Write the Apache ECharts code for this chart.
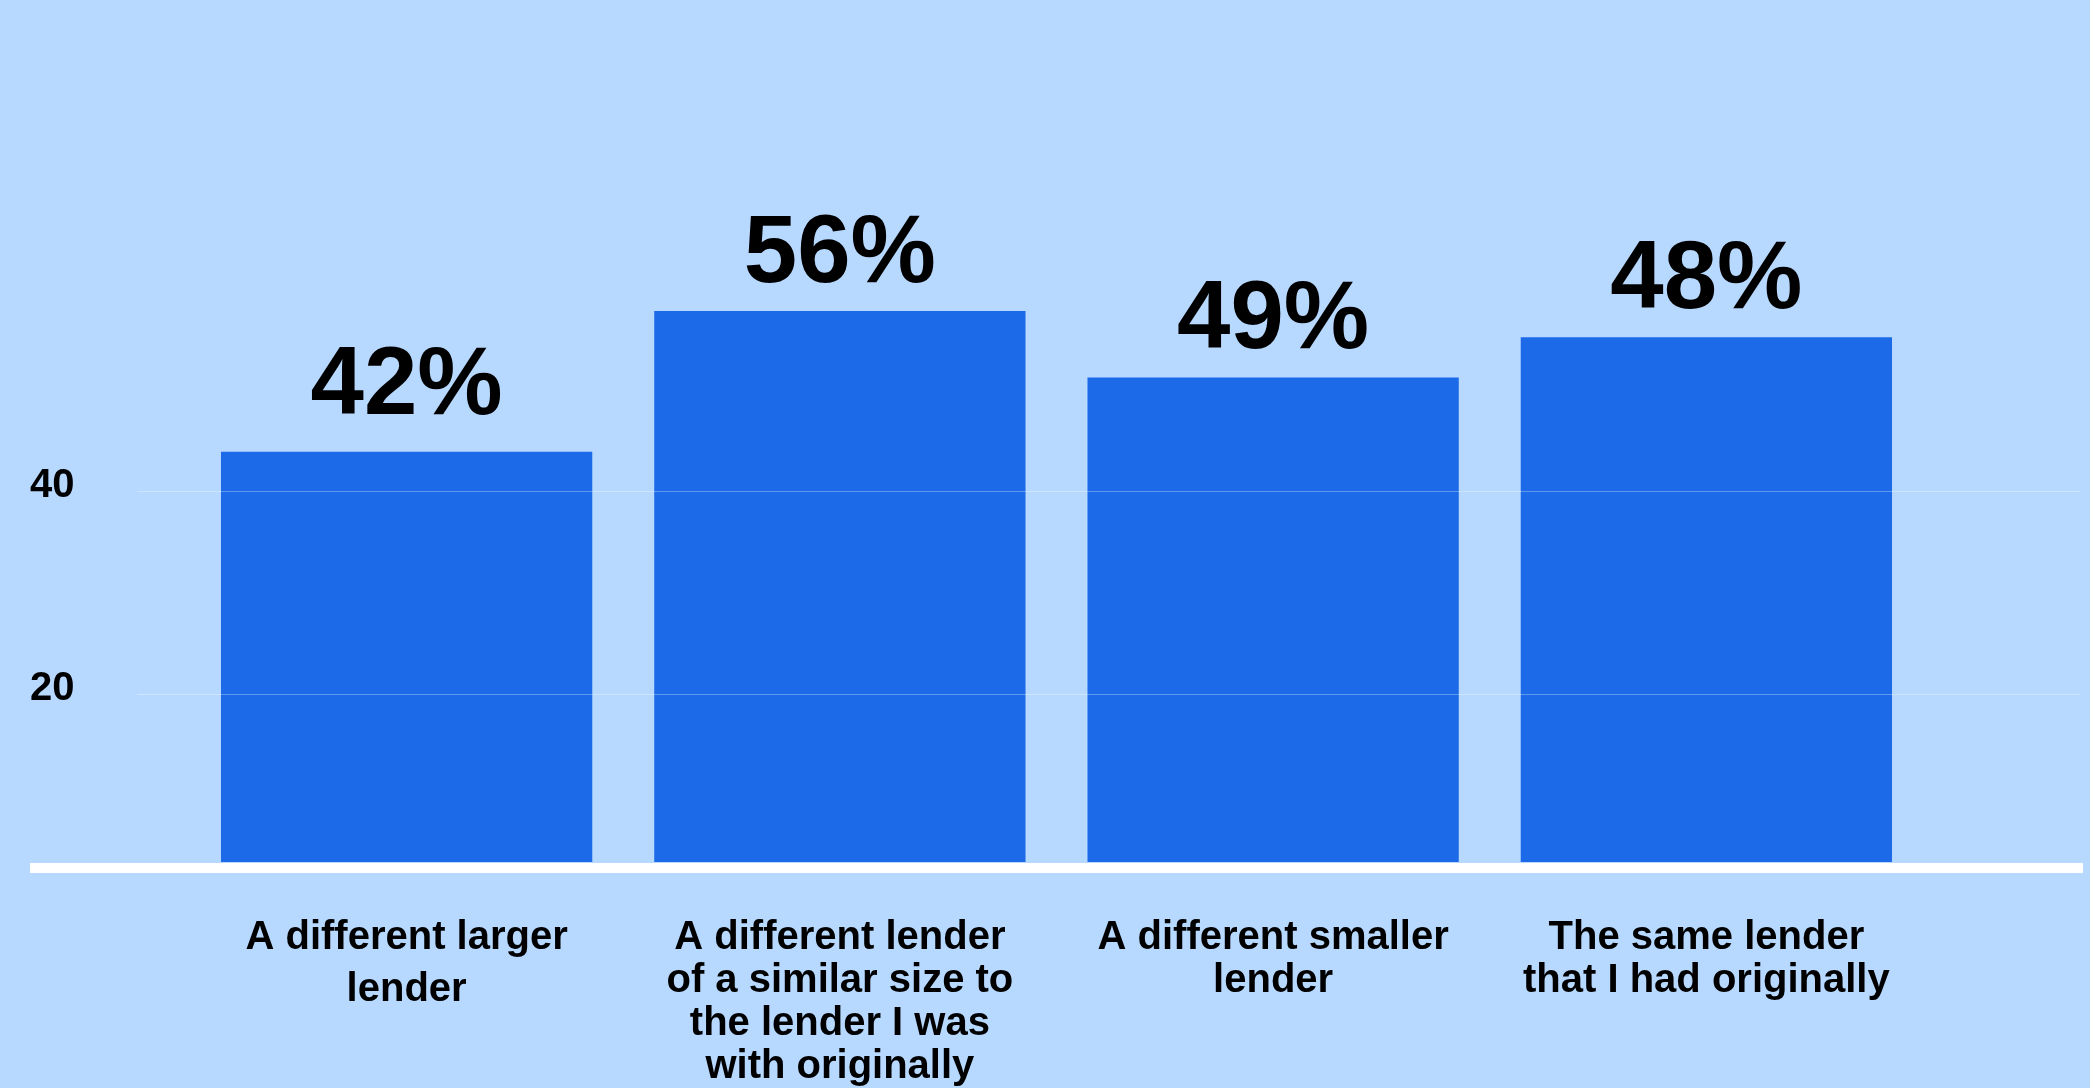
<!DOCTYPE html>
<html>
<head>
<meta charset="utf-8">
<script src="https://cdn.jsdelivr.net/npm/echarts@6/dist/echarts.min.js"></script>
<style>
html,body{margin:0;padding:0;background:#b8d9ff;}
#chart{width:2090px;height:1088px;}
</style>
</head>
<body>
<div id="chart"></div>
<script>
const categories = [
  'A different larger\nlender',
  'A different lender\nof a similar size to\nthe lender I was\nwith originally',
  'A different smaller\nlender',
  'The same lender\nthat I had originally'
];
const barValues = [43.7, 57.7, 51.1, 55.1];
const barLabels = ['42%', '56%', '49%', '48%'];
const yTickLabels = [20, 40];
const yMin = 2.9;
const yMax = 60;

const FONT = '"Liberation Sans", Arial, sans-serif';
const chart = echarts.init(document.getElementById('chart'));
const gTop = 288, gBottom = 220;

chart.setOption({
  backgroundColor: '#b8d9ff',
  animation: false,
  grid: [
    {left: 137, right: 10, top: gTop, bottom: gBottom},
    {left: 190, right: 167, top: gTop, bottom: gBottom},
    {left: 30, right: 7, top: gTop, bottom: gBottom}
  ],
  xAxis: [
    {gridIndex: 0, type: 'category', data: [''], show: false},
    {
      gridIndex: 1, type: 'category', data: categories,
      axisLine: {show: false, onZero: false}, axisTick: {show: false},
      axisLabel: {
        interval: 0, margin: 54, color: '#000', fontFamily: FONT,
        fontWeight: 'bold', fontSize: 40, lineHeight: 43,
        formatter: function (v, i) {
          if (i === 0) {
            const parts = v.split('\n');
            return parts.map((s, k) => (k === 0 ? '{a|' : '{b|') + s + '}').join('\n');
          }
          return v;
        },
        rich: {
          a: {fontFamily: FONT, fontWeight: 'bold', fontSize: 40, lineHeight: 43, color: '#000'},
          b: {fontFamily: FONT, fontWeight: 'bold', fontSize: 40, lineHeight: 61, color: '#000'}
        }
      }
    },
    {
      gridIndex: 2, type: 'category', data: [''], z: 5,
      axisLine: {show: true, onZero: false, lineStyle: {color: '#ffffff', width: 10, cap: 'butt'}},
      axisTick: {show: false}, axisLabel: {show: false}, splitLine: {show: false}
    }
  ],
  yAxis: [
    {
      gridIndex: 0, type: 'value', min: yMin, max: yMax, splitNumber: 3, z: 3,
      axisLine: {show: false}, axisTick: {show: false},
      axisLabel: {
        align: 'left', verticalAlign: 'bottom', lineHeight: 10, margin: 107, color: '#000',
        fontFamily: FONT, fontWeight: 'bold', fontSize: 40,
        formatter: function (v) { return yTickLabels.indexOf(v) >= 0 ? String(v) : ''; }
      },
      splitLine: {show: true, showMinLine: false, showMaxLine: false,
        lineStyle: {color: 'rgba(255,255,255,0.3)', width: 1}}
    },
    {gridIndex: 1, type: 'value', min: yMin, max: yMax, show: false, splitLine: {show: false}},
    {gridIndex: 2, type: 'value', min: 0, max: 1, show: false, splitLine: {show: false}}
  ],
  series: [{
    type: 'bar', xAxisIndex: 1, yAxisIndex: 1, z: 2,
    data: barValues.map(function (v, i) {
      return i === 0 ? {value: v, label: {distance: 16}} : v;
    }),
    barCategoryGap: '14.3%',
    itemStyle: {color: '#1c6ae8'},
    label: {
      show: true, position: 'top', distance: 8, color: '#000',
      fontFamily: FONT, fontWeight: 'bold', fontSize: 96,
      formatter: function (p) { return barLabels[p.dataIndex]; }
    }
  }]
});
</script>
</body>
</html>
